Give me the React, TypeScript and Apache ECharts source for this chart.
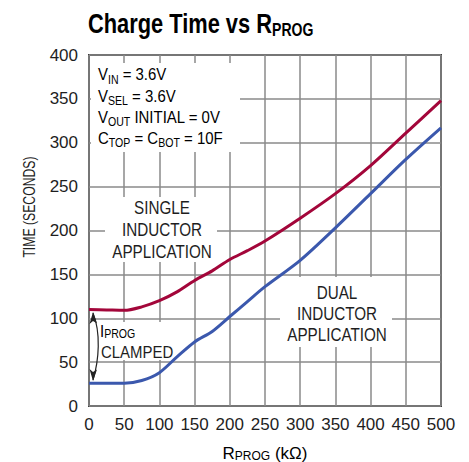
import React, { useEffect, useRef } from 'react';
import * as echarts from 'echarts';

const rProg = [0, 25, 50, 75, 100, 125, 150, 175, 200, 225, 250, 300, 350, 400, 450, 500];
const singleInductor = [110, 109.5, 109, 113, 120, 130, 143, 154, 167, 177, 188, 214, 242, 274, 311, 348];
const dualInductor = [26, 26, 26, 29, 38, 56, 73, 85, 102, 119, 136, 166, 203, 242, 281, 317];

const xMin = 0, xMax = 500, xStep = 50;
const yMin = 0, yMax = 400, yStep = 50;

const FONT = "'Liberation Sans', Arial, 'Noto Sans', sans-serif";
const TXT = '#1e1e1e';

export default function App() {
  const ref = useRef<HTMLDivElement>(null);
  useEffect(() => {
    if (!ref.current) return;
    const chart = echarts.init(ref.current, undefined, { renderer: 'svg' });
    const n = { fontFamily: FONT, fontSize: 17, color: TXT, lineHeight: 21.3 };
    const s = { fontFamily: FONT, fontSize: 12, color: TXT, lineHeight: 10, verticalAlign: 'bottom' as const };
    const rich = { n, s };
    chart.setOption({
      animation: false,
      backgroundColor: '#ffffff',
      grid: {
        left: 89, right: 28, top: 55, bottom: 56,
        show: true, borderColor: '#3c3c3c', borderWidth: 2, backgroundColor: 'transparent',
      },
      xAxis: {
        type: 'value', min: xMin, max: xMax, interval: xStep,
        axisLine: { show: false }, axisTick: { show: false },
        axisLabel: { fontFamily: FONT, fontSize: 17, color: TXT, margin: 10 },
        splitLine: { show: true, lineStyle: { color: '#8a8a8a', width: 1.5 } },
      },
      yAxis: {
        type: 'value', min: yMin, max: yMax, interval: yStep,
        axisLine: { show: false }, axisTick: { show: false },
        axisLabel: { fontFamily: FONT, fontSize: 17, color: TXT, margin: 11 },
        splitLine: { show: true, lineStyle: { color: '#8a8a8a', width: 1.5 } },
      },
      series: [
        {
          type: 'line', name: 'Single Inductor', smooth: 0.3, showSymbol: false, z: 3,
          data: rProg.map((x, i) => [x, singleInductor[i]]),
          lineStyle: { color: '#a3063a', width: 3 },
        },
        {
          type: 'line', name: 'Dual Inductor', smooth: 0.3, showSymbol: false, z: 3,
          data: rProg.map((x, i) => [x, dualInductor[i]]),
          lineStyle: { color: '#3b58ad', width: 3 },
        },
      ],
      graphic: [
        // white masks behind annotations
        { type: 'rect', z: 1, shape: { x: 91, y: 63, width: 149, height: 89 }, style: { fill: '#fff' } },
        { type: 'rect', z: 1, shape: { x: 105, y: 197, width: 112, height: 65 }, style: { fill: '#fff' } },
        { type: 'rect', z: 1, shape: { x: 280, y: 277, width: 112, height: 70 }, style: { fill: '#fff' } },
        { type: 'rect', z: 1, shape: { x: 99, y: 322, width: 73, height: 38 }, style: { fill: '#fff' } },
        // title
        {
          type: 'text', z: 5, x: 88, y: 23, scaleX: 0.78,
          style: {
            text: '{b|Charge Time vs R}{bs|PROG}',
            textVerticalAlign: 'middle',
            rich: {
              b: { fontFamily: FONT, fontSize: 28, fontWeight: 'bold', color: '#222', lineHeight: 30 },
              bs: { fontFamily: FONT, fontSize: 18, fontWeight: 'bold', color: '#222', lineHeight: 12, verticalAlign: 'bottom' },
            },
          },
        },
        // conditions box
        {
          type: 'text', z: 5, x: 98, y: 64, scaleX: 0.88,
          style: {
            text: '{n|V}{s|IN}{n| = 3.6V}\n{n|V}{s|SEL}{n| = 3.6V}\n{n|V}{s|OUT}{n| INITIAL = 0V}\n{n|C}{s|TOP}{n| = C}{s|BOT}{n| = 10F}',
            rich,
          },
        },
        // single inductor
        {
          type: 'text', z: 5, x: 162, y: 230, scaleX: 0.87,
          style: {
            text: 'SINGLE\nINDUCTOR\nAPPLICATION', fontFamily: FONT, fontSize: 17.5, lineHeight: 22,
            fill: TXT, align: 'center', verticalAlign: 'middle',
          },
        },
        // dual inductor
        {
          type: 'text', z: 5, x: 337, y: 314, scaleX: 0.87,
          style: {
            text: 'DUAL\nINDUCTOR\nAPPLICATION', fontFamily: FONT, fontSize: 17.5, lineHeight: 21,
            fill: TXT, align: 'center', verticalAlign: 'middle',
          },
        },
        // IPROG clamped
        {
          type: 'text', z: 5, x: 100, y: 322, scaleX: 0.88,
          style: { text: '{n|I}{s|PROG}', rich: { n: { ...n, lineHeight: 18 }, s: { ...s } } },
        },
        {
          type: 'text', z: 5, x: 101, y: 352, scaleX: 0.88,
          style: { text: 'CLAMPED', fontFamily: FONT, fontSize: 17, fill: TXT, verticalAlign: 'middle' },
        },
        // arrow
        {
          type: 'bezierCurve', z: 5,
          shape: { x1: 93, y1: 313, x2: 93, y2: 380, cpx1: 101, cpy1: 333, cpx2: 99, cpy2: 360 },
          style: { stroke: '#222', lineWidth: 1.2, fill: null },
        },
        { type: 'polygon', z: 5, shape: { points: [[93, 312], [89.5, 324], [93, 321], [97, 323.5]] }, style: { fill: '#222' } },
        { type: 'polygon', z: 5, shape: { points: [[93, 381], [89.5, 369], [93, 372], [97, 369.5]] }, style: { fill: '#222' } },
        // y axis name
        {
          type: 'text', z: 5, x: 29, y: 207, rotation: Math.PI / 2, scaleX: 0.72,
          style: { text: 'TIME (SECONDS)', fontFamily: FONT, fontSize: 17, fill: TXT, align: 'center', verticalAlign: 'middle' },
        },
        // x axis name
        {
          type: 'text', z: 5, x: 265, y: 444,
          style: {
            text: '{n|R}{s|PROG}{n| (kΩ)}', align: 'center',
            rich: { n: { ...n, lineHeight: 18 }, s: { ...s, lineHeight: 8 } },
          },
        },
      ],
    });
    return () => chart.dispose();
  }, []);
  return <div ref={ref} style={{ position: 'fixed', left: 0, top: 0, width: 469, height: 462 }} />;
}
